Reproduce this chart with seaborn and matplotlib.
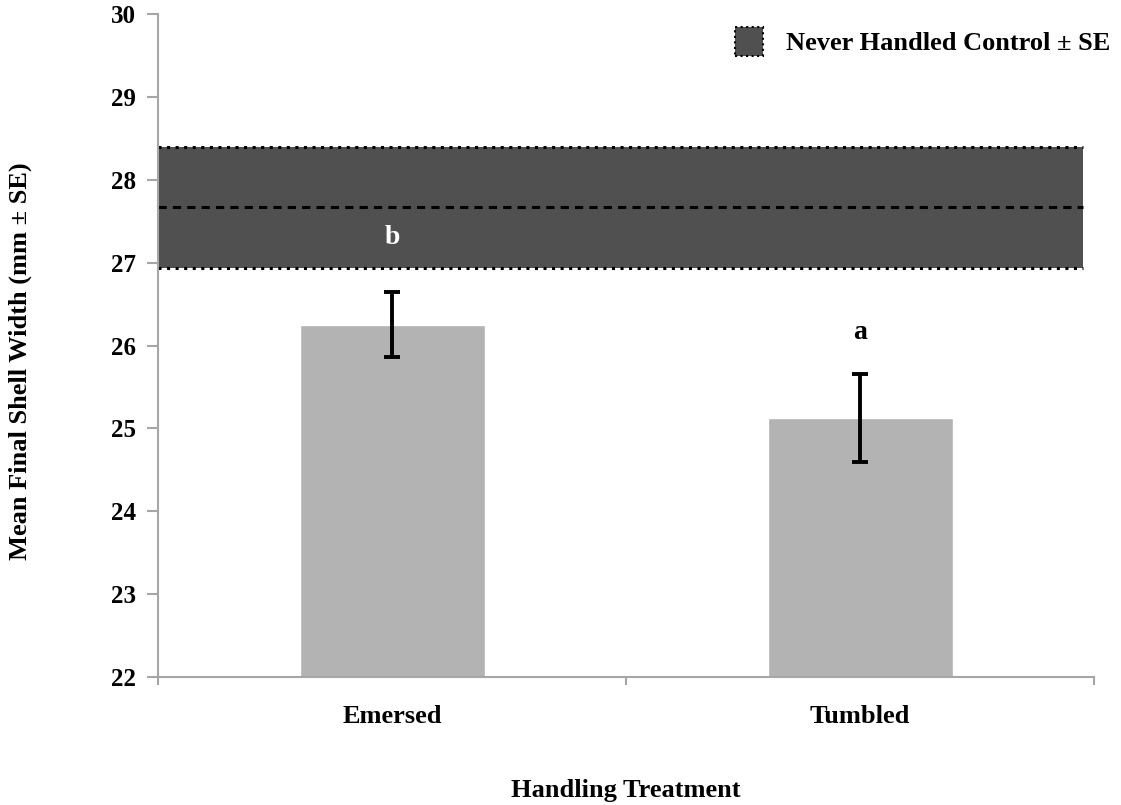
import matplotlib
matplotlib.use("Agg")
import matplotlib.pyplot as plt
from matplotlib.patches import Patch
import seaborn as sns
import pandas as pd

# Handling treatments and their mean final shell widths (mm) with standard errors
treatments = ["Emersed", "Tumbled"]
mean_width = [26.25, 25.13]
se_width = [0.39, 0.53]
sig_letters = ["b", "a"]

# Never-handled control: mean and standard error
control_mean = 27.67
control_se = 0.73

y_ticks = [22, 23, 24, 25, 26, 27, 28, 29, 30]

df = pd.DataFrame({"Treatment": treatments, "Width": mean_width})

sns.set_style("white")
plt.rcParams["font.family"] = ["Liberation Serif", "DejaVu Serif"]
plt.rcParams["font.weight"] = "bold"
plt.rcParams["text.color"] = "black"
plt.rcParams["axes.labelcolor"] = "black"
plt.rcParams["xtick.color"] = "black"
plt.rcParams["ytick.color"] = "black"

fig = plt.figure(figsize=(11.21, 8.05), dpi=100)
ax = fig.add_axes([0.141, 0.159, 0.835, 0.8236])

bar_grey = "#b3b3b3"
band_grey = "#505050"
axis_grey = "#a6a6a6"

sns.barplot(data=df, x="Treatment", y="Width", color=bar_grey, width=0.395,
            errorbar=None, saturation=1, ax=ax, zorder=2)

# Control band (mean ± SE) drawn across the plot
lo, hi = control_mean - control_se, control_mean + control_se
ax.axhspan(lo, hi, xmin=0, xmax=0.988, facecolor=band_grey, edgecolor="none", zorder=1)
for yv in (lo, hi):
    ax.axhline(yv, xmin=0, xmax=0.988, color="black", lw=2.2,
               linestyle=(0, (1, 1.8)), zorder=1.5)
ax.axhline(control_mean, xmin=0, xmax=0.988, color="black", lw=2.2,
           linestyle=(0, (2.7, 2.0)), zorder=1.5)

# Error bars on the treatment means
ax.errorbar(range(len(treatments)), mean_width, yerr=se_width, fmt="none",
            ecolor="black", elinewidth=2.8, capsize=5.5, capthick=2.8, zorder=3)

# Significance letters
ax.text(0, 27.3, sig_letters[0], color="white", ha="center", va="center",
        fontsize=20, fontweight="bold", zorder=4)
ax.text(1, 26.16, sig_letters[1], color="black", ha="center", va="center",
        fontsize=20, fontweight="bold", zorder=4)

ax.set_xlim(-0.5, 1.5)
ax.set_ylim(22, 30)
ax.set_yticks(y_ticks)
ax.set_yticklabels([str(t) for t in y_ticks], fontsize=18, fontweight="bold")
ax.set_xticks([-0.5, 0.5, 1.5], minor=False)
ax.set_xticklabels(["", "", ""])
ax.set_xticks([0, 1], minor=True)
ax.set_xticklabels(treatments, minor=True, fontsize=19, fontweight="bold")
ax.tick_params(axis="x", which="minor", length=0, pad=20, bottom=True)
ax.tick_params(axis="x", which="major", length=6, width=1.5, color=axis_grey,
               direction="out", bottom=True)
ax.tick_params(axis="y", length=8, width=1.5, color=axis_grey, direction="out",
               pad=8, left=True)

for side in ("top", "right"):
    ax.spines[side].set_visible(False)
for side in ("left", "bottom"):
    ax.spines[side].set_color(axis_grey)
    ax.spines[side].set_linewidth(1.5)

ax.set_xlabel("Handling Treatment", fontsize=19, fontweight="bold", va="center")
ax.xaxis.set_label_coords(0.5, -0.171)
ax.set_ylabel("Mean Final Shell Width (mm \u00b1 SE)", fontsize=19, fontweight="bold", va="center")
ax.yaxis.set_label_coords(-0.147, 0.477)

handle = Patch(facecolor=band_grey, edgecolor="black", linestyle=":", linewidth=1.5,
               label="Never Handled Control \u00b1 SE")
ax.legend(handles=[handle], loc="upper right", bbox_to_anchor=(1.043, 1.016), frameon=False,
          prop={"size": 19, "weight": "bold"}, handlelength=1.05, handleheight=1.3,
          handletextpad=0.9)

fig.savefig("out.png", dpi=100)
